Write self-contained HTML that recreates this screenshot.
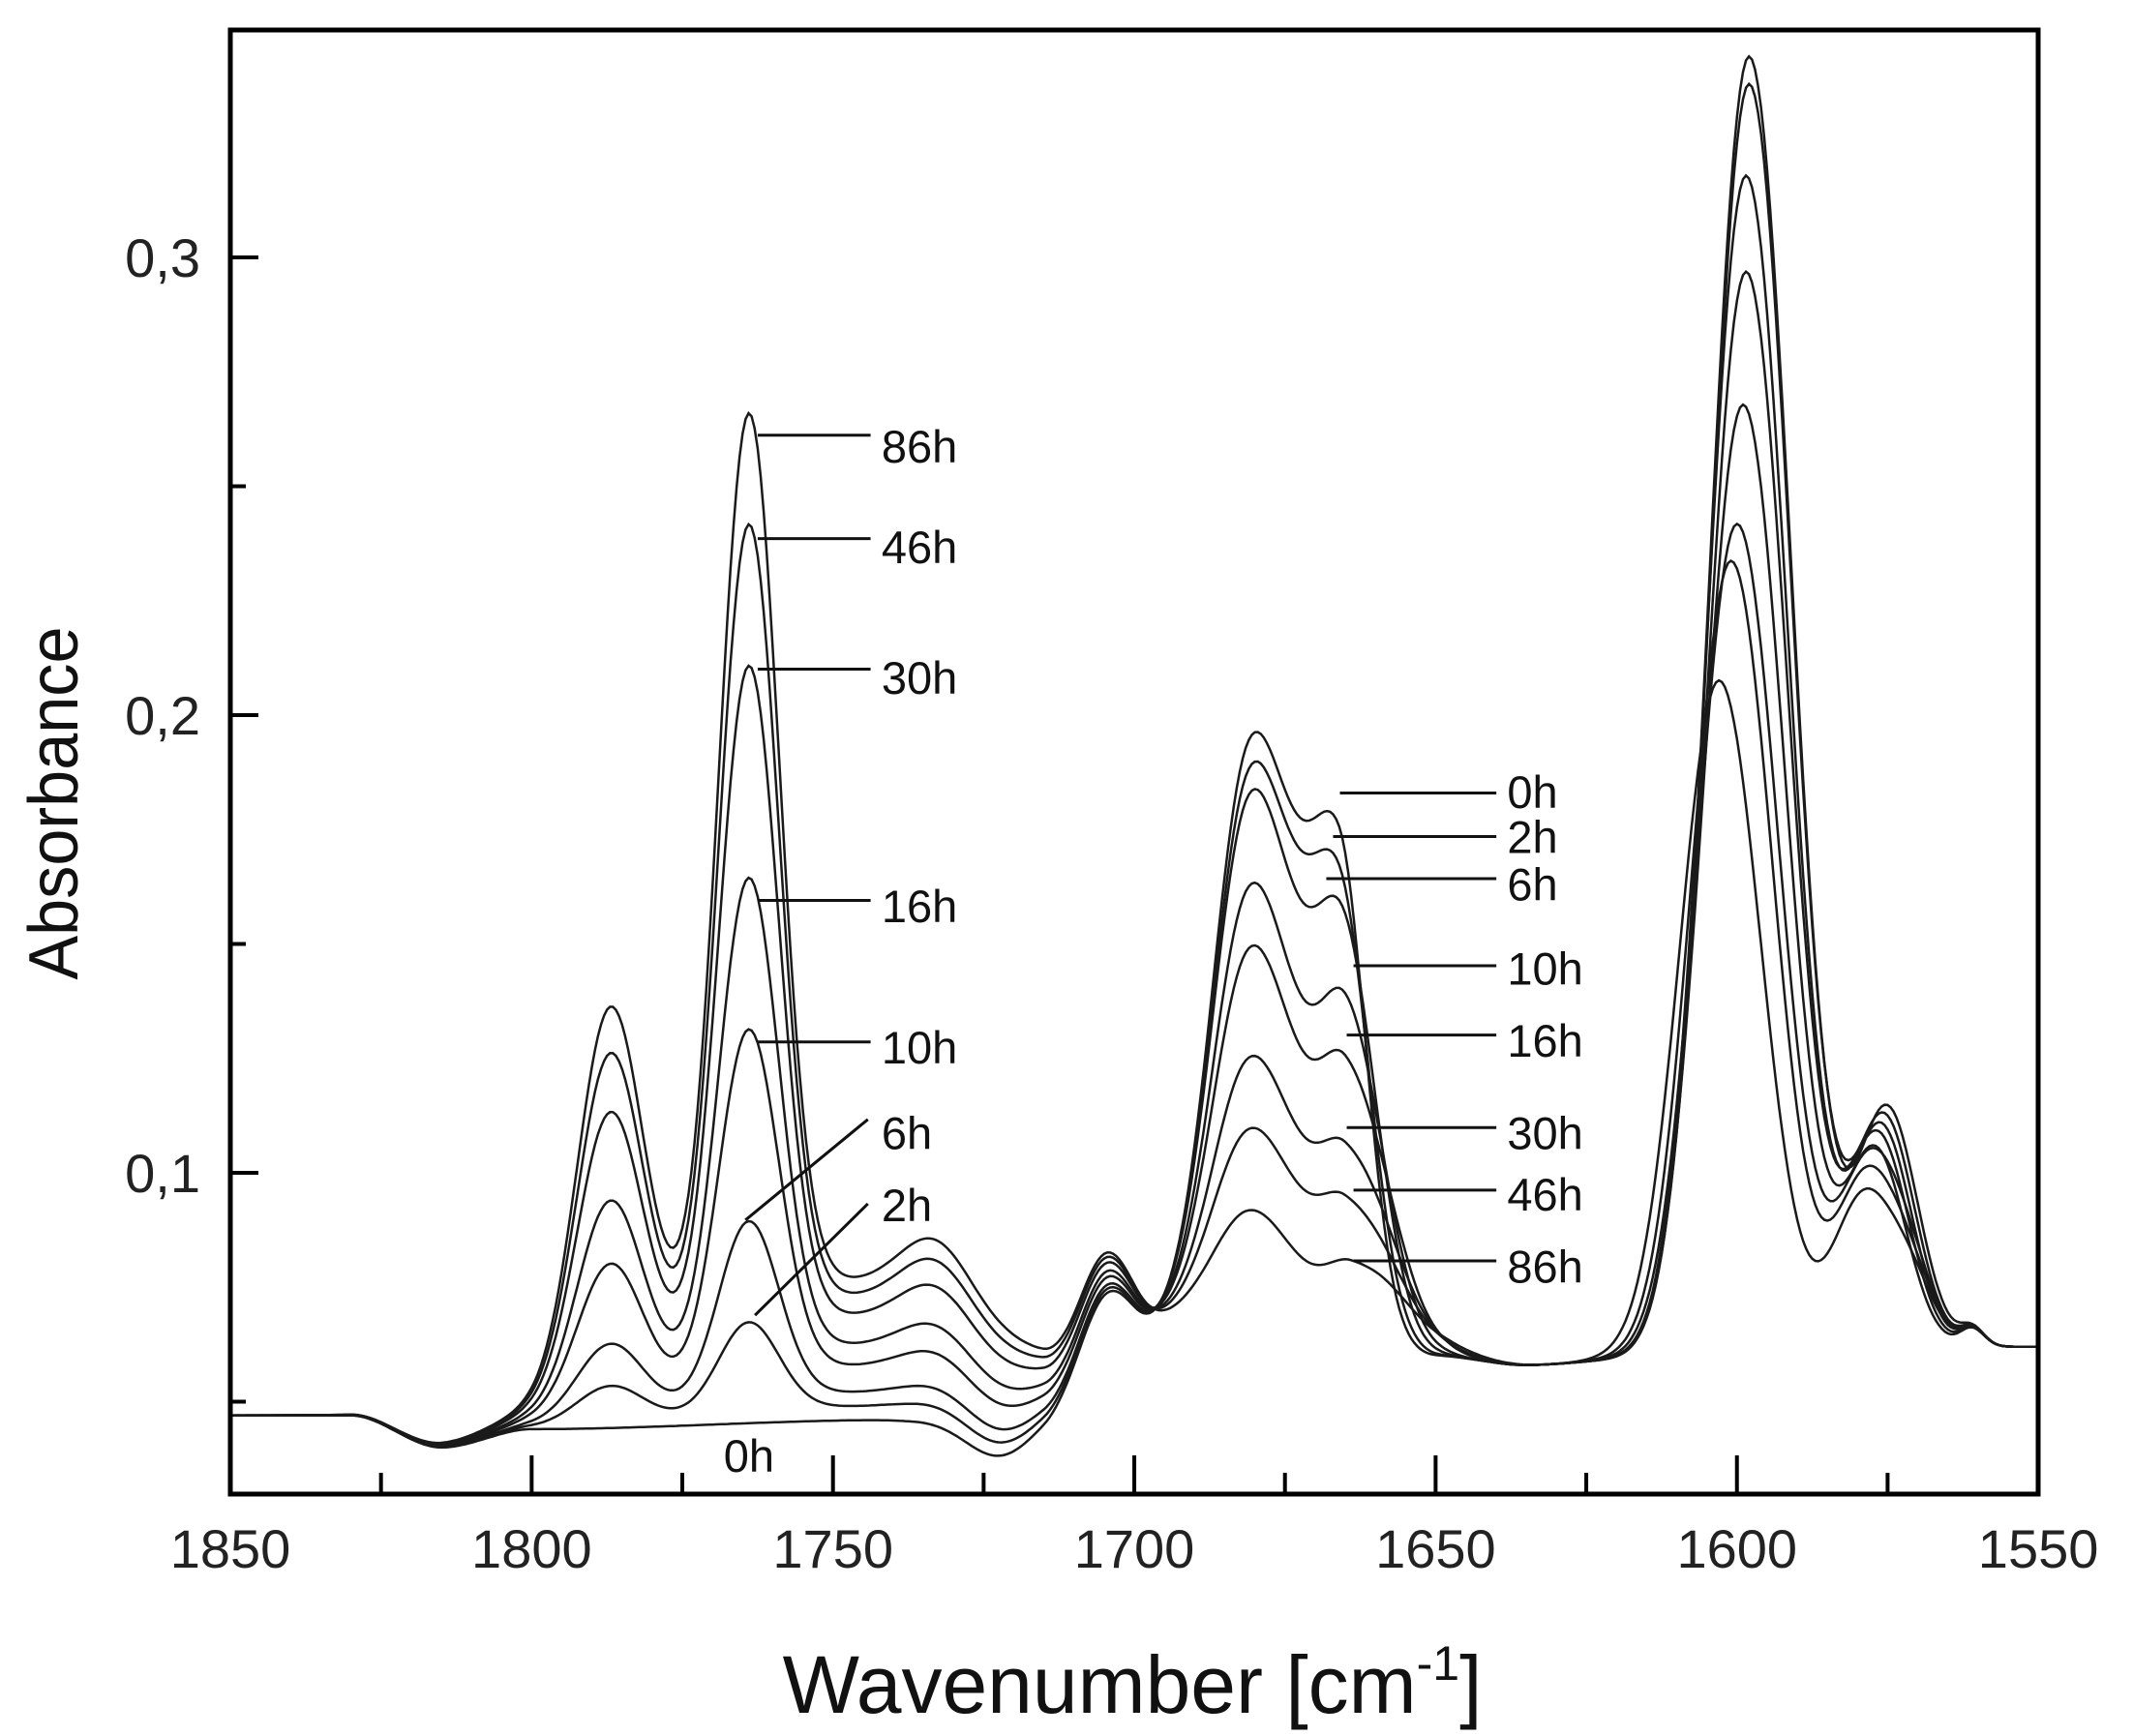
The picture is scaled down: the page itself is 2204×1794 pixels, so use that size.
<!DOCTYPE html>
<html><head><meta charset="utf-8"><style>html,body{margin:0;padding:0;background:#fff}svg{display:block}</style></head>
<body>
<svg id="s" width="2204" height="1794" viewBox="0 0 2204 1794" xmlns="http://www.w3.org/2000/svg" font-family="Liberation Sans, Arial, sans-serif">
<rect width="2204" height="1794" fill="#fff"/>
<g id="curves" fill="none" stroke="#1a1a1a" stroke-width="2.5"></g>
<g id="ann" stroke="#111" stroke-width="3" fill="#111"></g>
<rect x="238" y="31" width="1868" height="1513" fill="none" stroke="#000" stroke-width="5"/>
<g id="ticks" stroke="#000" stroke-width="4"></g>
<g font-size="56" fill="#222">
<text x="207" y="286" text-anchor="end">0,3</text>
<text x="207" y="759" text-anchor="end">0,2</text>
<text x="207" y="1232" text-anchor="end">0,1</text>
<g id="xl" text-anchor="middle"></g>
</g>
<text x="1170" y="1770" font-size="84" text-anchor="middle" fill="#111">Wavenumber [cm<tspan dy="-34" font-size="50">-1</tspan><tspan dy="34">]</tspan></text>
<text transform="translate(80,830) rotate(-90)" font-size="72" text-anchor="middle" fill="#111" textLength="365" lengthAdjust="spacingAndGlyphs">Absorbance</text>
</svg>
<script>
const X=w=>238+(1850-w)*6.227, Y=a=>266+(0.3-a)*4730;
const G=(w,c,s)=>Math.exp(-Math.pow((w-c)/s,2)/2);
function interp(pts,w){for(let i=0;i<pts.length-1;i++){const [a,va]=pts[i],[b,vb]=pts[i+1];if(w<=a&&w>=b){const t=(a-w)/(a-b),s=t*t*(3-2*t);return va+(vb-va)*s;}}return pts[pts.length-1][1];}
const base=[[1850,.047],[1830,.047],[1815,.040],[1800,.044],[1740,.046],[1715,.050],[1700,.064],[1690,.066],[1660,.062],[1650,.060],[1635,.058],[1620,.059],[1560,.062],[1550,.062]];
const gs=[0,.1,.2,.39,.54,.75,.89,1];
const P=[
 [.123,.105,1666,4.5, .284,1598,.052,1575],
 [.117,.097,1666,5,  .278,1598,.050,1575.5],
 [.112,.090,1665.5,5.5,.258,1598.5,.048,1576],
 [.093,.073,1665,6, .237,1598.5,.046,1576.5],
 [.080,.060,1665,7, .208,1599,.043,1577],
 [.057,.042,1665,7.5, .182,1600,.040,1578],
 [.042,.031,1665,8,   .174,1601,.037,1578.5],
 [.025,.018,1664,9,   .148,1603,.033,1579]];
const cg=document.getElementById('curves');
for(let k=0;k<8;k++){
 const g=gs[k],p=P[k];let d='';
 for(let w=1850;w>=1549.9;w-=0.5){
  let a=interp(base,w);
  a-=0.011*G(w,1722,6)*(1-g*0.9);
  a+=0.013*G(w,1705,4);
  a+=g*(0.082*G(w,1787,5.5)+0.195*G(w,1764,5)+0.015*G(w,1733,6)+0.03*G(w,1750,25)+0.003*G(w,1705,4));
  a+=p[0]*G(w,1681,6)+p[0]*0.17*G(w,1674,4)+p[1]*G(w,p[2],w>p[2]?5.3:p[3]);
  a+=p[4]*G(w,p[5],w>p[5]?6.5:7);
  a+=p[6]*G(w,p[7],5)+(k>4?0.012*G(w,1571,4):0)+0.004*G(w,1561,2);
  d+=(d?'L':'M')+X(w).toFixed(1)+' '+Y(a).toFixed(1);
 }
 const e=document.createElementNS('http://www.w3.org/2000/svg','path');e.setAttribute('d',d);cg.appendChild(e);
}
const S=1.4056,ann=document.getElementById('ann');
function ln(x1,y1,x2,y2){const e=document.createElementNS('http://www.w3.org/2000/svg','line');e.setAttribute('x1',x1*S);e.setAttribute('y1',y1*S);e.setAttribute('x2',x2*S);e.setAttribute('y2',y2*S);ann.appendChild(e);}
function tx(x,y,t){const e=document.createElementNS('http://www.w3.org/2000/svg','text');e.setAttribute('x',x*S);e.setAttribute('y',y*S);e.setAttribute('font-size','47');e.setAttribute('stroke','none');e.textContent=t;ann.appendChild(e);}
[[320,340,'86h'],[396,414,'46h'],[492,510,'30h'],[662,678,'16h'],[766,782,'10h']].forEach(r=>{ln(557,r[0],640,r[0]);tx(648,r[1],r[2]);});
ln(548,897,638,823);tx(648,845,'6h');ln(555,967,638,885);tx(648,898,'2h');tx(532,1082,'0h');
[[985,583,594,'0h'],[980,615,627,'2h'],[975,646,662,'6h'],[995,710,724,'10h'],[990,761,777,'16h'],[990,829,845,'30h'],[995,875,890,'46h'],[995,927,943,'86h']].forEach(r=>{ln(r[0],r[1],1100,r[1]);tx(1108,r[2],r[3]);});
const tk=document.getElementById('ticks'),xl=document.getElementById('xl');
for(let w=1850;w>=1550;w-=25){const x=X(w),L=(w%50==0)?40:22;const e=document.createElementNS('http://www.w3.org/2000/svg','line');e.setAttribute('x1',x);e.setAttribute('x2',x);e.setAttribute('y1',1544);e.setAttribute('y2',1544-L);tk.appendChild(e);
 if(w%50==0){const t=document.createElementNS('http://www.w3.org/2000/svg','text');t.setAttribute('x',x);t.setAttribute('y',1620);t.textContent=w;xl.appendChild(t);}}
for(let a=0.05;a<0.35;a+=0.05){const y=Y(a),L=(Math.round(a*100)%10==0)?29:16;const e=document.createElementNS('http://www.w3.org/2000/svg','line');e.setAttribute('x1',238);e.setAttribute('x2',238+L);e.setAttribute('y1',y);e.setAttribute('y2',y);tk.appendChild(e);}
</script>
</body></html>
